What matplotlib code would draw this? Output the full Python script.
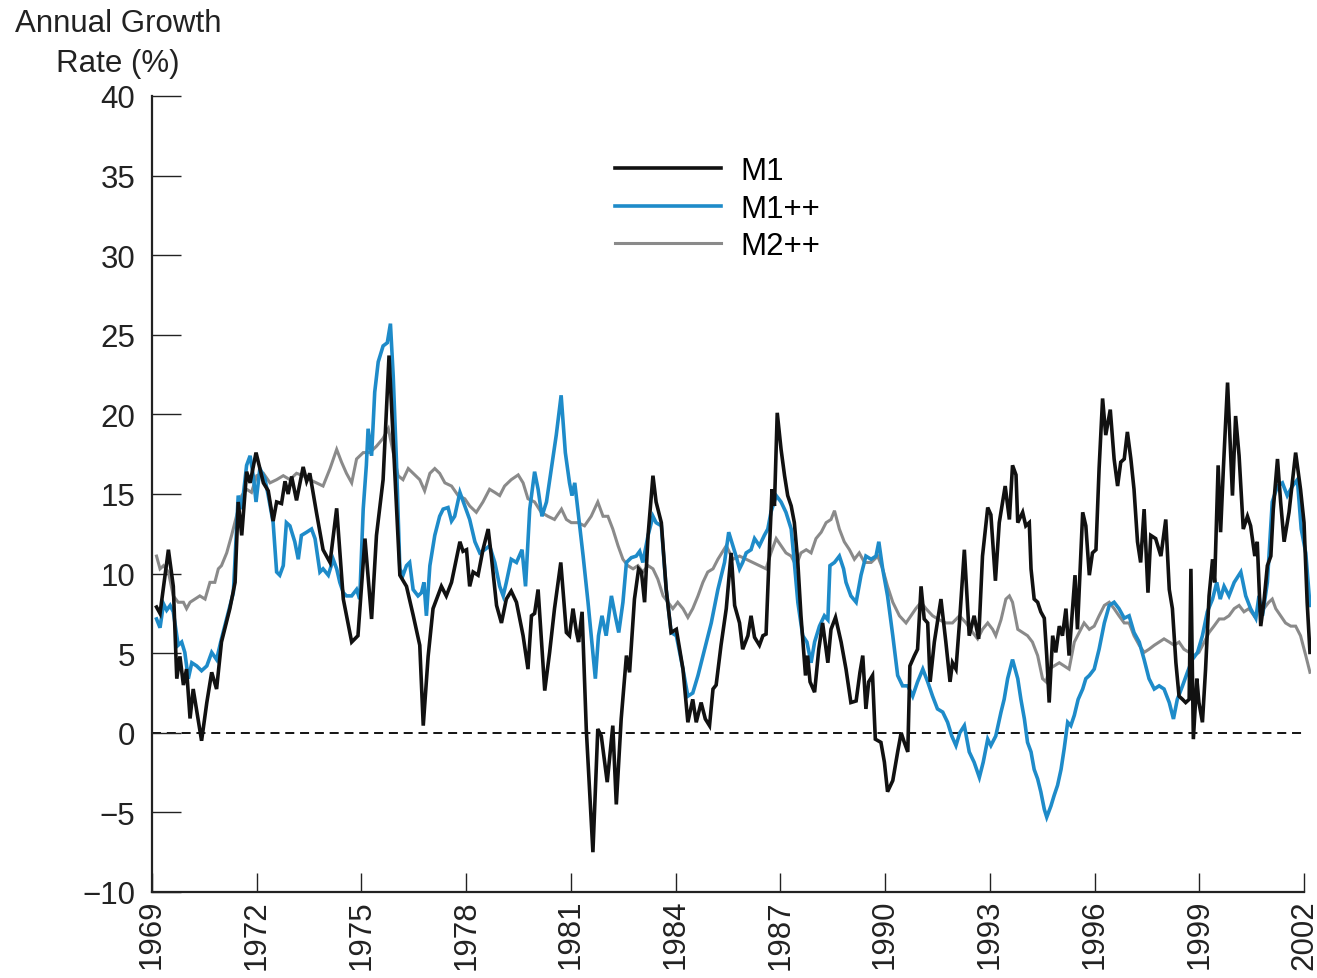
import matplotlib
matplotlib.use("Agg")
import matplotlib.pyplot as plt
from matplotlib.lines import Line2D

plt.rcParams['font.family'] = ['Liberation Sans', 'DejaVu Sans']

# Annual growth rates (%) of the monetary aggregates, (decimal year, value)
m1_points = [
    (1969.13, 7.9), (1969.23, 7.5), (1969.47, 11.5), (1969.61, 9.2), (1969.71, 3.4),
    (1969.80, 4.8), (1969.90, 3.0), (1969.99, 4.0), (1970.09, 0.9), (1970.18, 2.75),
    (1970.42, -0.5), (1970.57, 1.9), (1970.71, 3.8), (1970.85, 2.75), (1970.99, 5.7),
    (1971.23, 7.8), (1971.38, 9.45), (1971.47, 14.5), (1971.57, 12.4), (1971.71, 16.4),
    (1971.81, 15.7), (1971.98, 17.6), (1972.19, 15.7), (1972.33, 15.2), (1972.47, 13.3),
    (1972.57, 14.5), (1972.71, 14.4), (1972.81, 15.8), (1972.90, 15.0), (1973.00, 16.1),
    (1973.14, 14.6), (1973.33, 16.7), (1973.43, 15.8), (1973.52, 16.3), (1973.71, 13.85),
    (1973.90, 11.5), (1974.10, 10.7), (1974.29, 14.1), (1974.48, 8.4), (1974.72, 5.7),
    (1974.90, 6.1), (1975.10, 12.2), (1975.29, 7.15), (1975.43, 12.4), (1975.62, 15.9),
    (1975.79, 23.7), (1975.95, 16.6), (1976.10, 9.9), (1976.29, 9.2), (1976.48, 7.4),
    (1976.67, 5.5), (1976.77, 0.45), (1976.91, 4.8), (1977.05, 7.8), (1977.29, 9.2),
    (1977.43, 8.6), (1977.58, 9.45), (1977.82, 12.0), (1977.91, 11.4), (1978.01, 11.5),
    (1978.10, 9.2), (1978.20, 10.1), (1978.34, 9.9), (1978.48, 11.5), (1978.63, 12.8),
    (1978.72, 11.1), (1978.87, 8.0), (1979.01, 6.9), (1979.15, 8.4), (1979.29, 8.9),
    (1979.44, 8.2), (1979.63, 6.1), (1979.77, 4.0), (1979.87, 7.35), (1979.96, 7.5),
    (1980.06, 9.0), (1980.25, 2.65), (1980.39, 5.05), (1980.53, 7.8), (1980.71, 10.7),
    (1980.87, 6.3), (1980.96, 6.1), (1981.06, 7.8), (1981.16, 6.3), (1981.22, 5.7),
    (1981.32, 7.6), (1981.44, 0.24), (1981.63, -7.5), (1981.77, 0.24), (1981.87, -0.2),
    (1982.04, -3.1), (1982.20, 0.45), (1982.30, -4.5), (1982.44, 0.87), (1982.59, 4.85),
    (1982.68, 3.8), (1982.82, 8.4), (1982.94, 10.3), (1983.02, 10.1), (1983.11, 8.2),
    (1983.21, 12.4), (1983.35, 16.15), (1983.44, 14.5), (1983.59, 13.2), (1983.73, 9.0),
    (1983.87, 6.3), (1984.02, 6.5), (1984.21, 4.0), (1984.35, 0.66), (1984.49, 2.1),
    (1984.59, 0.66), (1984.73, 1.9), (1984.85, 0.87), (1984.97, 0.45), (1985.07, 2.75),
    (1985.16, 3.0), (1985.30, 5.5), (1985.45, 7.8), (1985.59, 11.3), (1985.69, 8.0),
    (1985.83, 6.9), (1985.92, 5.25), (1986.07, 6.1), (1986.16, 7.35), (1986.26, 6.0),
    (1986.40, 5.5), (1986.50, 6.1), (1986.59, 6.2), (1986.69, 11.75), (1986.76, 15.3),
    (1986.83, 14.25), (1986.91, 20.1), (1987.02, 17.8), (1987.12, 16.15), (1987.21, 14.9),
    (1987.31, 14.25), (1987.40, 13.2), (1987.50, 10.7), (1987.59, 7.35), (1987.72, 3.6),
    (1987.78, 4.85), (1987.85, 3.2), (1987.98, 2.55), (1988.10, 5.25), (1988.21, 6.9),
    (1988.36, 4.4), (1988.45, 6.5), (1988.58, 7.25), (1988.74, 5.7), (1988.88, 4.0),
    (1989.02, 1.9), (1989.17, 2.0), (1989.28, 3.8), (1989.36, 4.85), (1989.45, 1.5),
    (1989.53, 3.2), (1989.64, 3.6), (1989.72, -0.4), (1989.88, -0.6), (1989.98, -1.85),
    (1990.07, -3.7), (1990.22, -3.0), (1990.36, -1.2), (1990.46, 0.0), (1990.55, -0.6),
    (1990.65, -1.2), (1990.71, 4.2), (1990.84, 4.85), (1990.93, 5.25), (1991.03, 9.2),
    (1991.12, 7.15), (1991.22, 6.9), (1991.29, 3.2), (1991.41, 5.7), (1991.60, 8.4),
    (1991.74, 5.7), (1991.86, 3.2), (1991.93, 4.4), (1992.03, 4.0), (1992.13, 6.9),
    (1992.27, 11.5), (1992.41, 6.1), (1992.55, 7.35), (1992.68, 5.9), (1992.79, 11.1),
    (1992.94, 14.15), (1993.03, 13.7), (1993.16, 9.55), (1993.27, 13.2), (1993.44, 15.5),
    (1993.56, 13.4), (1993.65, 16.8), (1993.75, 16.2), (1993.80, 13.2), (1993.94, 13.85),
    (1994.03, 13.0), (1994.13, 13.2), (1994.18, 10.3), (1994.27, 8.4), (1994.37, 8.2),
    (1994.46, 7.6), (1994.56, 7.2), (1994.63, 4.85), (1994.70, 1.9), (1994.80, 6.1),
    (1994.89, 5.05), (1994.99, 6.7), (1995.08, 6.1), (1995.18, 7.8), (1995.27, 4.85),
    (1995.37, 7.8), (1995.44, 9.9), (1995.51, 6.5), (1995.66, 13.85), (1995.75, 13.0),
    (1995.85, 9.9), (1995.94, 11.3), (1996.04, 11.5), (1996.13, 16.6), (1996.23, 21.0),
    (1996.32, 18.7), (1996.45, 20.3), (1996.56, 17.2), (1996.66, 15.5), (1996.75, 17.0),
    (1996.85, 17.2), (1996.94, 18.9), (1997.04, 17.2), (1997.13, 15.3), (1997.23, 12.0),
    (1997.32, 10.7), (1997.42, 14.05), (1997.53, 8.8), (1997.61, 12.4), (1997.75, 12.2),
    (1997.90, 11.1), (1998.04, 13.4), (1998.14, 9.0), (1998.23, 7.8), (1998.33, 4.4),
    (1998.42, 2.3), (1998.52, 2.1), (1998.61, 1.9), (1998.71, 2.1), (1998.76, 10.3),
    (1998.83, -0.4), (1998.93, 3.4), (1998.99, 1.9), (1999.09, 0.66), (1999.18, 4.0),
    (1999.28, 8.6), (1999.38, 10.9), (1999.44, 9.45), (1999.54, 16.8), (1999.61, 12.6),
    (1999.69, 16.6), (1999.81, 22.0), (1999.95, 14.9), (2000.04, 19.9), (2000.14, 17.4),
    (2000.26, 12.8), (2000.38, 13.6), (2000.47, 13.0), (2000.59, 11.1), (2000.66, 12.0),
    (2000.76, 6.7), (2000.85, 8.2), (2000.95, 10.5), (2001.05, 11.1), (2001.12, 14.05),
    (2001.24, 17.2), (2001.33, 14.5), (2001.43, 12.0), (2001.57, 13.85), (2001.76, 17.6),
    (2001.90, 15.3), (2002.00, 13.2), (2002.09, 8.2), (2002.17, 5.05),
]

m1pp_points = [
    (1969.13, 7.15), (1969.23, 6.6), (1969.33, 8.1), (1969.42, 7.7), (1969.52, 8.0),
    (1969.61, 7.6), (1969.75, 5.5), (1969.85, 5.7), (1969.94, 5.05), (1970.04, 3.4),
    (1970.14, 4.4), (1970.28, 4.2), (1970.42, 3.9), (1970.57, 4.2), (1970.71, 5.05),
    (1970.85, 4.6), (1970.99, 5.9), (1971.19, 7.6), (1971.33, 8.8), (1971.47, 14.9),
    (1971.57, 14.05), (1971.71, 16.8), (1971.81, 17.4), (1971.90, 16.15), (1971.98, 14.5),
    (1972.09, 16.6), (1972.23, 16.0), (1972.33, 14.9), (1972.47, 13.2), (1972.57, 10.1),
    (1972.66, 9.9), (1972.76, 10.5), (1972.85, 13.2), (1972.95, 13.0), (1973.09, 12.0),
    (1973.19, 10.9), (1973.28, 12.4), (1973.43, 12.6), (1973.57, 12.8), (1973.67, 12.2),
    (1973.81, 10.1), (1973.90, 10.3), (1974.05, 9.9), (1974.19, 10.9), (1974.29, 10.3),
    (1974.38, 9.45), (1974.48, 8.8), (1974.57, 8.6), (1974.72, 8.6), (1974.86, 9.0),
    (1974.95, 8.4), (1975.05, 14.05), (1975.14, 16.8), (1975.19, 19.1), (1975.29, 17.4),
    (1975.38, 21.4), (1975.48, 23.3), (1975.62, 24.3), (1975.74, 24.5), (1975.83, 25.7),
    (1975.91, 22.4), (1976.00, 17.2), (1976.10, 10.3), (1976.19, 9.9), (1976.29, 10.5),
    (1976.38, 10.7), (1976.48, 9.0), (1976.62, 8.6), (1976.72, 8.8), (1976.79, 9.45),
    (1976.86, 7.35), (1976.96, 10.5), (1977.10, 12.4), (1977.24, 13.6), (1977.34, 14.05),
    (1977.48, 14.15), (1977.58, 13.3), (1977.67, 13.6), (1977.82, 15.1), (1977.96, 14.25),
    (1978.10, 13.4), (1978.25, 12.0), (1978.39, 11.3), (1978.53, 11.5), (1978.67, 11.75),
    (1978.82, 10.7), (1978.96, 9.2), (1979.06, 8.6), (1979.15, 9.45), (1979.29, 10.9),
    (1979.44, 10.7), (1979.60, 11.5), (1979.70, 9.2), (1979.82, 14.05), (1979.96, 16.4),
    (1980.06, 15.3), (1980.17, 13.6), (1980.30, 14.5), (1980.44, 16.6), (1980.58, 18.7),
    (1980.72, 21.2), (1980.84, 17.6), (1980.96, 15.7), (1981.03, 14.9), (1981.11, 15.7),
    (1981.22, 13.6), (1981.35, 11.1), (1981.49, 8.2), (1981.60, 5.7), (1981.70, 3.4),
    (1981.79, 6.1), (1981.89, 7.35), (1982.01, 6.1), (1982.16, 8.6), (1982.27, 7.35),
    (1982.37, 6.3), (1982.49, 8.2), (1982.59, 10.7), (1982.73, 11.0), (1982.87, 11.1),
    (1982.97, 11.4), (1983.06, 10.7), (1983.21, 12.4), (1983.35, 13.6), (1983.44, 13.2),
    (1983.59, 13.0), (1983.73, 9.0), (1983.87, 6.3), (1984.02, 6.1), (1984.21, 4.0),
    (1984.35, 2.3), (1984.49, 2.5), (1984.64, 3.6), (1984.83, 5.25), (1985.02, 6.9),
    (1985.21, 9.0), (1985.40, 10.7), (1985.52, 12.6), (1985.64, 11.75), (1985.73, 11.1),
    (1985.83, 10.3), (1985.92, 10.7), (1986.02, 11.3), (1986.16, 11.5), (1986.26, 12.2),
    (1986.40, 11.75), (1986.54, 12.4), (1986.64, 12.8), (1986.73, 13.85), (1986.88, 14.9),
    (1987.02, 14.5), (1987.16, 13.85), (1987.31, 12.8), (1987.40, 10.7), (1987.50, 8.2),
    (1987.64, 6.1), (1987.76, 5.7), (1987.88, 4.4), (1987.98, 5.7), (1988.12, 6.7),
    (1988.26, 7.35), (1988.36, 7.1), (1988.42, 10.5), (1988.55, 10.7), (1988.69, 11.1),
    (1988.81, 10.3), (1988.88, 9.45), (1989.02, 8.6), (1989.17, 8.2), (1989.31, 9.9),
    (1989.45, 11.1), (1989.60, 10.9), (1989.74, 11.1), (1989.82, 12.0), (1989.93, 10.3),
    (1990.07, 8.6), (1990.22, 6.1), (1990.36, 3.6), (1990.50, 2.95), (1990.65, 2.95),
    (1990.79, 2.3), (1990.93, 3.2), (1991.08, 4.0), (1991.22, 3.2), (1991.36, 2.3),
    (1991.50, 1.5), (1991.65, 1.3), (1991.79, 0.66), (1991.91, -0.2), (1992.03, -0.8),
    (1992.14, 0.0), (1992.27, 0.45), (1992.41, -1.2), (1992.55, -1.85), (1992.70, -2.8),
    (1992.81, -1.85), (1992.94, -0.4), (1993.03, -0.8), (1993.17, -0.2), (1993.32, 1.3),
    (1993.41, 2.1), (1993.51, 3.4), (1993.65, 4.6), (1993.80, 3.4), (1993.89, 2.1),
    (1993.99, 0.87), (1994.08, -0.6), (1994.18, -1.2), (1994.27, -2.3), (1994.37, -2.9),
    (1994.46, -3.7), (1994.56, -4.8), (1994.63, -5.3), (1994.75, -4.6), (1994.84, -3.95),
    (1994.94, -3.3), (1995.04, -2.3), (1995.13, -1.0), (1995.23, 0.66), (1995.32, 0.45),
    (1995.42, 1.1), (1995.53, 2.1), (1995.66, 2.75), (1995.75, 3.4), (1995.85, 3.6),
    (1995.99, 4.0), (1996.13, 5.25), (1996.28, 6.9), (1996.42, 8.0), (1996.56, 8.2),
    (1996.70, 7.8), (1996.85, 7.2), (1996.99, 7.35), (1997.13, 6.3), (1997.28, 5.7),
    (1997.42, 4.6), (1997.56, 3.4), (1997.71, 2.75), (1997.85, 2.95), (1997.99, 2.75),
    (1998.14, 1.9), (1998.26, 0.87), (1998.37, 2.1), (1998.52, 2.95), (1998.66, 3.8),
    (1998.80, 4.6), (1998.95, 5.05), (1999.09, 6.1), (1999.23, 7.6), (1999.38, 8.4),
    (1999.50, 9.45), (1999.60, 8.4), (1999.71, 9.2), (1999.85, 8.6), (2000.00, 9.45),
    (2000.19, 10.1), (2000.33, 8.6), (2000.47, 7.8), (2000.62, 7.2), (2000.71, 8.6),
    (2000.81, 7.35), (2000.95, 9.45), (2001.09, 14.5), (2001.24, 15.5), (2001.38, 15.7),
    (2001.52, 14.9), (2001.67, 15.5), (2001.81, 15.9), (2001.92, 12.8), (2002.05, 11.3),
    (2002.17, 8.0),
]

m2pp_points = [
    (1969.13, 11.1), (1969.23, 10.3), (1969.33, 10.5), (1969.47, 10.1), (1969.61, 8.6),
    (1969.75, 8.2), (1969.90, 8.2), (1969.99, 7.8), (1970.09, 8.2), (1970.23, 8.4),
    (1970.37, 8.6), (1970.52, 8.4), (1970.66, 9.45), (1970.80, 9.45), (1970.90, 10.3),
    (1970.99, 10.5), (1971.14, 11.3), (1971.28, 12.4), (1971.42, 13.6), (1971.57, 14.9),
    (1971.71, 15.3), (1971.85, 15.1), (1972.00, 16.15), (1972.19, 16.3), (1972.38, 15.7),
    (1972.57, 15.9), (1972.76, 16.15), (1972.95, 15.9), (1973.14, 16.3), (1973.33, 16.15),
    (1973.52, 15.9), (1973.71, 15.7), (1973.90, 15.5), (1974.10, 16.6), (1974.29, 17.8),
    (1974.43, 17.0), (1974.57, 16.3), (1974.72, 15.7), (1974.86, 17.2), (1975.05, 17.6),
    (1975.24, 17.6), (1975.43, 18.0), (1975.62, 18.5), (1975.77, 19.1), (1975.91, 17.6),
    (1976.05, 16.15), (1976.19, 15.9), (1976.34, 16.6), (1976.48, 16.3), (1976.67, 15.9),
    (1976.81, 15.2), (1976.96, 16.3), (1977.10, 16.6), (1977.24, 16.3), (1977.39, 15.7),
    (1977.58, 15.5), (1977.77, 14.9), (1977.96, 14.7), (1978.10, 14.25), (1978.29, 13.85),
    (1978.48, 14.5), (1978.67, 15.3), (1978.82, 15.1), (1978.96, 14.9), (1979.10, 15.5),
    (1979.29, 15.9), (1979.49, 16.2), (1979.63, 15.7), (1979.77, 14.7), (1979.96, 14.5),
    (1980.15, 13.85), (1980.34, 13.6), (1980.53, 13.4), (1980.73, 14.05), (1980.87, 13.4),
    (1981.01, 13.2), (1981.20, 13.2), (1981.39, 13.0), (1981.58, 13.6), (1981.77, 14.5),
    (1981.92, 13.6), (1982.06, 13.6), (1982.20, 12.8), (1982.35, 11.75), (1982.49, 10.9),
    (1982.63, 10.5), (1982.78, 10.3), (1982.92, 10.5), (1983.06, 10.1), (1983.21, 10.5),
    (1983.35, 10.3), (1983.49, 9.65), (1983.64, 8.6), (1983.78, 8.2), (1983.92, 7.8),
    (1984.06, 8.2), (1984.21, 7.8), (1984.35, 7.25), (1984.49, 7.8), (1984.64, 8.6),
    (1984.78, 9.45), (1984.92, 10.1), (1985.07, 10.3), (1985.21, 10.9), (1985.45, 11.75),
    (1985.64, 10.9), (1985.83, 11.1), (1986.02, 10.9), (1986.21, 10.7), (1986.40, 10.5),
    (1986.59, 10.3), (1986.73, 11.3), (1986.88, 12.2), (1987.02, 11.75), (1987.16, 11.3),
    (1987.31, 11.1), (1987.45, 10.5), (1987.59, 11.3), (1987.74, 11.5), (1987.88, 11.3),
    (1988.02, 12.2), (1988.17, 12.6), (1988.31, 13.2), (1988.45, 13.4), (1988.55, 13.95),
    (1988.69, 12.8), (1988.83, 12.0), (1988.98, 11.5), (1989.12, 10.9), (1989.26, 11.3),
    (1989.41, 10.7), (1989.60, 10.7), (1989.79, 11.1), (1989.93, 10.3), (1990.07, 9.2),
    (1990.22, 8.2), (1990.41, 7.35), (1990.60, 6.9), (1990.74, 7.35), (1990.88, 7.8),
    (1991.03, 8.2), (1991.17, 7.8), (1991.36, 7.35), (1991.55, 7.1), (1991.74, 6.9),
    (1991.93, 6.9), (1992.13, 7.35), (1992.32, 6.9), (1992.51, 6.3), (1992.65, 5.9),
    (1992.79, 6.5), (1992.94, 6.9), (1993.08, 6.5), (1993.17, 6.1), (1993.32, 7.1),
    (1993.46, 8.4), (1993.56, 8.6), (1993.65, 8.2), (1993.80, 6.5), (1993.94, 6.3),
    (1994.08, 6.1), (1994.22, 5.7), (1994.37, 4.85), (1994.51, 3.4), (1994.61, 3.2),
    (1994.70, 4.0), (1994.84, 4.2), (1994.99, 4.4), (1995.13, 4.2), (1995.27, 4.0),
    (1995.42, 5.7), (1995.56, 6.3), (1995.70, 6.9), (1995.85, 6.5), (1995.99, 6.7),
    (1996.13, 7.35), (1996.28, 8.0), (1996.42, 8.2), (1996.56, 7.8), (1996.70, 7.35),
    (1996.85, 6.9), (1996.99, 6.9), (1997.13, 6.1), (1997.28, 5.5), (1997.42, 5.05),
    (1997.56, 5.25), (1997.71, 5.5), (1997.85, 5.7), (1997.99, 5.9), (1998.14, 5.7),
    (1998.28, 5.5), (1998.42, 5.7), (1998.56, 5.25), (1998.71, 5.05), (1998.85, 4.85),
    (1998.99, 5.05), (1999.14, 5.7), (1999.28, 6.3), (1999.42, 6.7), (1999.57, 7.15),
    (1999.71, 7.15), (1999.85, 7.35), (2000.00, 7.8), (2000.14, 8.0), (2000.28, 7.6),
    (2000.42, 7.8), (2000.57, 7.35), (2000.71, 7.8), (2000.85, 7.8), (2000.99, 8.2),
    (2001.09, 8.4), (2001.19, 7.8), (2001.33, 7.35), (2001.47, 6.9), (2001.62, 6.7),
    (2001.76, 6.7), (2001.90, 6.1), (2002.05, 4.85), (2002.17, 3.8),
]

series_names = ["M1", "M1++", "M2++"]
series_colors = ["#111111", "#1e8bc9", "#8a8a8a"]
series_widths = [2.6, 2.6, 2.2]

x_ticks = list(range(1969, 2003, 3))
y_ticks = list(range(-10, 41, 5))

FONT = 22.5
W, H = 1317, 979
fig = plt.figure(figsize=(W / 100, H / 100), dpi=100)
ax = fig.add_axes([152 / W, 1 - 893 / H, (1311 - 152) / W, (893 - 97) / H])
ax.set_xlim(1969, 2002.2)
ax.set_ylim(-10, 40)

# zero reference line
ax.hlines(0, 1969, 2002, colors="black", linewidth=1.3,
          linestyles=(0, (5, 3.2)), zorder=1)

# draw gray first so the narrower aggregates sit on top
draw_order = [2, 1, 0]
all_points = [m1_points, m1pp_points, m2pp_points]
for z, i in enumerate(draw_order):
    xs = [p[0] for p in all_points[i]]
    ys = [p[1] for p in all_points[i]]
    ax.plot(xs, ys, color=series_colors[i], linewidth=series_widths[i],
            solid_joinstyle="miter", zorder=2 + z)

for side in ("top", "right"):
    ax.spines[side].set_visible(False)
for side in ("left", "bottom"):
    ax.spines[side].set_linewidth(1.6)
    ax.spines[side].set_color("#222222")
ax.spines["bottom"].set_bounds(1969, 2002)

ax.set_xticks(x_ticks)
ax.set_xticklabels([str(t) for t in x_ticks], rotation=90)
ax.set_yticks(y_ticks)
ax.tick_params(axis="y", direction="in", length=21, width=1.0, pad=12,
               labelsize=FONT, colors="#222222")
ax.tick_params(axis="x", direction="in", length=14, width=1.0, pad=5,
               labelsize=FONT, colors="#222222")

handles = [Line2D([], [], color=c, linewidth=w)
           for c, w in zip(series_colors, series_widths)]
ax.legend(handles, series_names, loc="upper left",
          bbox_to_anchor=(615 / W, 1 - 157 / H), bbox_transform=fig.transFigure,
          frameon=False, fontsize=FONT, handlelength=3.4, handletextpad=0.62,
          labelspacing=0.24, borderpad=0, borderaxespad=0)

fig.text(118 / W, 1 - 9 / H, "Annual Growth\nRate (%)", ha="center", va="top",
         fontsize=FONT, linespacing=1.45, color="#222222")

fig.savefig("out.png", dpi=100)
